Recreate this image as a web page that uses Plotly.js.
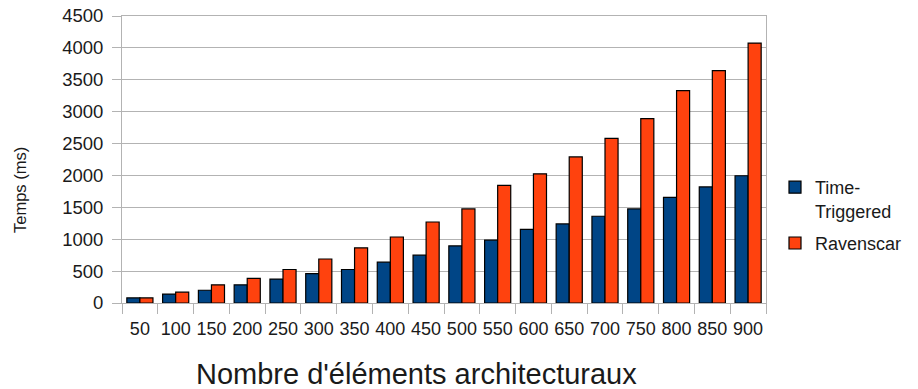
<!DOCTYPE html>
<html><head><meta charset="utf-8">
<script src="https://cdn.plot.ly/plotly-3.0.1.min.js"></script>
<style>body{margin:0;background:#fff}#c{width:918px;height:389px}</style>
</head><body><div id="c"></div>
<script>
var categories = ['50','100','150','200','250','300','350','400','450','500','550','600','650','700','750','800','850','900'];
var timeTriggered = [80,140,200,285,375,460,525,640,750,895,985,1155,1240,1360,1475,1655,1820,1995];
var ravenscar = [80,170,285,385,525,690,865,1035,1270,1475,1845,2025,2290,2580,2890,3330,3645,4075];
var yTicks = [0,500,1000,1500,2000,2500,3000,3500,4000,4500];
var xTitle = "Nombre d'éléments architecturaux";
var yTitle = 'Temps (ms)';

var fam = '"Liberation Sans", Arial, sans-serif';
var data = [
 {type:'bar', name:'Time-<br>Triggered', legendgroup:'a', x:categories, y:timeTriggered,
  marker:{color:'#004586', line:{color:'#000', width:1.2}}},
 {type:'bar', name:'Ravenscar', legendgroup:'b', x:categories, y:ravenscar,
  marker:{color:'#ff420e', line:{color:'#000', width:1.2}}}
];
var W = 918, H = 389, L = 122, R = 152, T = 16, B = 86;
function px(x){ return (x - L) / (W - L - R); }
function py(y){ return (H - B - y) / (H - T - B); }
var layout = {
 width:W, height:H,
 margin:{l:L, r:R, t:T, b:B, autoexpand:false},
 paper_bgcolor:'#fff', plot_bgcolor:'#fff',
 font:{family:fam, color:'#1a1a1a', size:18},
 barmode:'group', bargap:0.27, bargroupgap:0,
 showlegend:true,
 legend:{x:px(775), y:py(169), xanchor:'left', yanchor:'top', valign:'top',
  font:{size:18, color:'#1a1a1a'}, itemwidth:30, tracegroupgap:6},
 xaxis:{type:'category', tickson:'boundaries', ticks:'outside', ticklen:10, tickcolor:'#b3b3b3',
  showline:true, linecolor:'#b3b3b3', mirror:true, showgrid:false, tickangle:0, automargin:false,
  tickfont:{size:18, color:'#1a1a1a'}, ticklabelstandoff:9},
 yaxis:{range:[0,4500], tickvals:yTicks, ticks:'outside', ticklen:9, tickcolor:'#b3b3b3',
  showline:true, linecolor:'#b3b3b3', mirror:true, gridcolor:'#b3b3b3', gridwidth:1, zeroline:false,
  automargin:false, tickfont:{size:18.5, color:'#1a1a1a'}, ticklabelstandoff:5},
 annotations:[
  {text:xTitle, xref:'paper', yref:'paper', x:px(416), y:py(374), xanchor:'center', yanchor:'middle',
   showarrow:false, font:{size:29, color:'#1a1a1a', family:fam}},
  {text:yTitle, xref:'paper', yref:'paper', x:px(20), y:py(190), xanchor:'center', yanchor:'middle',
   textangle:-90, showarrow:false, font:{size:16.5, color:'#1a1a1a', family:fam}}
 ]
};
Plotly.newPlot('c', data, layout, {displayModeBar:false, staticPlot:true});
</script></body></html>
